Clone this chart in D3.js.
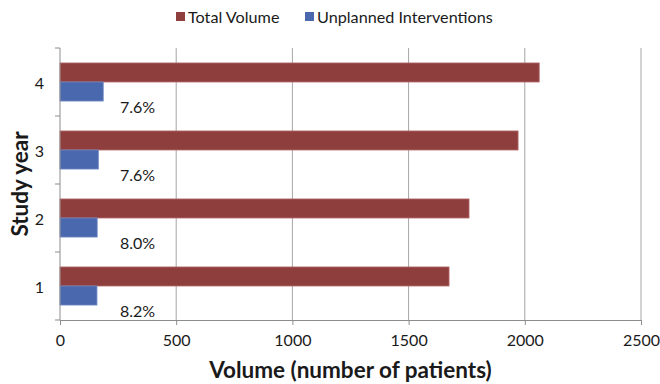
<!DOCTYPE html>
<html>
<head>
<meta charset="utf-8">
<script src="https://cdn.jsdelivr.net/npm/d3@7"></script>
<style>
  html, body { margin: 0; padding: 0; background: #fff; }
  svg { display: block; font-family: Lato, "Open Sans", "Liberation Sans", sans-serif; }
</style>
</head>
<body>
<svg id="chart" width="660" height="384"></svg>
<script>
// Study years, listed top to bottom
const years = ["4", "3", "2", "1"];
// Total patient volume per study year
const totalVolume = [2062, 1971, 1760, 1674];
// Unplanned interventions per study year
const unplanned = [186, 165, 160, 159];
// Unplanned interventions as a share of total volume
const rateLabels = ["7.6%", "7.6%", "8.0%", "8.2%"];
// Horizontal axis ticks
const xTicks = [0, 500, 1000, 1500, 2000, 2500];
const seriesNames = ["Total Volume", "Unplanned Interventions"];
const seriesKeys = ["total", "unplanned"];
const colors = { total: "#8f3e3e", unplanned: "#4a68ae" };
const strokes = { total: "#b36a6a", unplanned: "#7189c4" };

const svg = d3.select("#chart");
const margin = { left: 60, right: 19, top: 48, bottom: 64 };
const W = 660, H = 384;

const x = d3.scaleLinear().domain([0, 2500]).range([margin.left, W - margin.right]);
const y = d3.scaleBand().domain(years).range([margin.top, H - margin.bottom])
  .paddingInner(0.44).paddingOuter(0.22);
const ySub = d3.scaleBand().domain(seriesKeys).range([0, y.bandwidth()]);

const rows = years.map((yr, i) => ({
  year: yr, total: totalVolume[i], unplanned: unplanned[i], label: rateLabels[i]
}));

// vertical gridlines
svg.append("g").selectAll("line")
  .data(xTicks.filter(d => d > 0))
  .join("line")
  .attr("x1", d => x(d)).attr("x2", d => x(d))
  .attr("y1", y.range()[0]).attr("y2", y.range()[1])
  .attr("stroke", "#a6a6a6").attr("stroke-width", 1);

// bars
const groups = svg.append("g").selectAll("g")
  .data(rows).join("g")
  .attr("transform", d => `translate(0,${y(d.year)})`);

groups.selectAll("rect")
  .data(d => seriesKeys.map(k => ({ key: k, value: d[k] })))
  .join("rect")
  .attr("x", x(0))
  .attr("y", d => ySub(d.key))
  .attr("width", d => x(d.value) - x(0))
  .attr("height", ySub.bandwidth())
  .attr("fill", d => colors[d.key])
  .attr("stroke", d => strokes[d.key])
  .attr("stroke-width", 0.8);

// percentage labels under each pair of bars
groups.append("text")
  .attr("x", x(0) + 60)
  .attr("y", ySub("unplanned") + ySub.bandwidth() + 5)
  .attr("dominant-baseline", "central")
  .attr("font-size", 16)
  .attr("fill", "#1a1a1a")
  .text(d => d.label);

// x axis
const xAxis = svg.append("g")
  .attr("transform", `translate(0,${y.range()[1]})`)
  .call(d3.axisBottom(x).tickValues(xTicks).tickFormat(d3.format("d"))
    .tickSize(5).tickSizeOuter(0).tickPadding(10));
xAxis.select(".domain").attr("stroke", "#8c8c8c");
xAxis.selectAll(".tick line").attr("stroke", "#8c8c8c");
xAxis.selectAll("text").attr("font-size", 16).attr("fill", "#1a1a1a")
  .attr("font-family", "Lato, 'Open Sans', sans-serif");

// y axis line, boundary ticks and category labels
const yAxis = svg.append("g");
yAxis.append("line")
  .attr("x1", x(0)).attr("x2", x(0))
  .attr("y1", y.range()[0]).attr("y2", y.range()[1])
  .attr("stroke", "#8c8c8c");
const gap = (y.step() - y.bandwidth()) / 2;
const bounds = years.map(c => y(c) - gap).concat([y.range()[1]]);
yAxis.selectAll("line.tick")
  .data(bounds).join("line").attr("class", "tick")
  .attr("x1", x(0) - 5).attr("x2", x(0))
  .attr("y1", d => d).attr("y2", d => d)
  .attr("stroke", "#8c8c8c");
yAxis.selectAll("text")
  .data(years).join("text")
  .attr("x", x(0) - 16)
  .attr("y", d => y(d) + y.bandwidth() / 2)
  .attr("text-anchor", "end")
  .attr("dominant-baseline", "central")
  .attr("font-size", 16)
  .attr("fill", "#1a1a1a")
  .text(d => d);

// axis titles
svg.append("text")
  .attr("x", (x.range()[0] + x.range()[1]) / 2)
  .attr("y", 378)
  .attr("text-anchor", "middle")
  .attr("font-size", 22.5).attr("font-weight", "bold")
  .attr("fill", "#1a1a1a")
  .text("Volume (number of patients)");

svg.append("text")
  .attr("transform", `translate(28,${(y.range()[0] + y.range()[1]) / 2}) rotate(-90)`)
  .attr("text-anchor", "middle")
  .attr("font-size", 22.5).attr("font-weight", "bold")
  .attr("fill", "#1a1a1a")
  .text("Study year");

// legend
const legendX = [176, 305];
const legend = svg.append("g").selectAll("g")
  .data(seriesKeys).join("g")
  .attr("transform", (d, i) => `translate(${legendX[i]},12)`);
legend.append("rect")
  .attr("width", 9).attr("height", 9)
  .attr("fill", d => colors[d]);
legend.append("text")
  .attr("x", 12).attr("y", 4.5)
  .attr("dominant-baseline", "central")
  .attr("font-size", 16.2)
  .attr("fill", "#1a1a1a")
  .text((d, i) => seriesNames[i]);
</script>
</body>
</html>
